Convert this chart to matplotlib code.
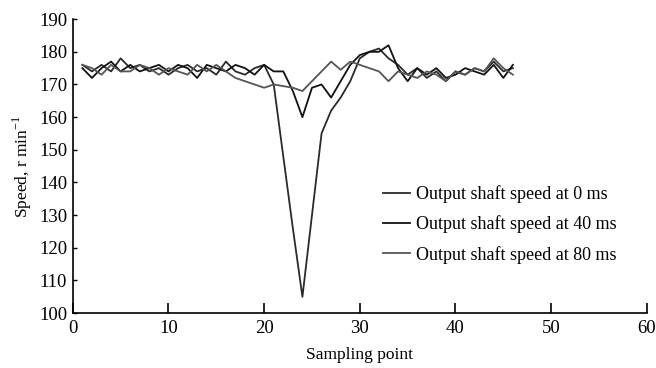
import numpy as np
import matplotlib
matplotlib.use('Agg')
import matplotlib.pyplot as plt

plt.rcParams['font.family'] = ['Liberation Serif', 'DejaVu Serif']
plt.rcParams['mathtext.fontset'] = 'custom'
plt.rcParams['mathtext.rm'] = 'Liberation Serif'

# sampling points
x = np.arange(1, 47)

# output shaft speed, r/min
speed_0ms = [176, 174, 176, 174, 178, 175, 176, 174, 175, 173,
             175, 176, 174, 175, 173, 177, 174, 173, 175, 176,
             170, 148, 126, 105, 130, 155, 162, 166, 171, 178,
             180, 181, 178, 176, 173, 175, 172, 174, 171, 174,
             173, 175, 174, 177, 174, 175]
speed_40ms = [175, 172, 175, 177, 174, 176, 174, 175, 176, 174,
              176, 175, 172, 176, 175, 174, 176, 175, 173, 176,
              174, 174, 168, 160, 169, 170, 166, 171, 176, 179,
              180, 180, 182, 175, 171, 175, 173, 175, 172, 173,
              175, 174, 173, 176, 172, 176]
speed_80ms = [176, 175, 173, 176, 174, 174, 176, 175, 173, 175,
              174, 173, 176, 174, 176, 174, 172, 171, 170, 169,
              170, 169.5, 169, 168, 171, 174, 177, 174.5, 177, 176,
              175, 174, 171, 174, 173, 172, 174, 173, 171, 174,
              173, 175, 174, 178, 175, 173]

labels = ['Output shaft speed at 0 ms',
          'Output shaft speed at 40 ms',
          'Output shaft speed at 80 ms']

fig = plt.figure(figsize=(6.56, 3.68), dpi=100)
ax = fig.add_axes([0.111, 0.149, 0.875, 0.799])

ax.plot(x, speed_0ms, color='#2a2a2a', lw=1.3, label=labels[0])
ax.plot(x, speed_40ms, color='#111111', lw=1.3, label=labels[1])
ax.plot(x, speed_80ms, color='#555555', lw=1.3, label=labels[2])

ax.set_xlim(0, 60)
ax.set_ylim(100, 190)
ax.set_xticks(np.arange(0, 61, 10))
ax.set_yticks(np.arange(100, 191, 10))

for s in ['top', 'right']:
    ax.spines[s].set_visible(False)
ax.spines['left'].set_linewidth(1.2)
ax.spines['bottom'].set_linewidth(1.2)
ax.tick_params(axis='x', direction='in', length=7, width=1.2, labelsize=13.5, pad=5)
ax.tick_params(axis='y', direction='in', length=3, width=1.0, labelsize=13.5, pad=4)

ax.set_xlabel('Sampling point', fontsize=12.5, labelpad=7)
ax.set_ylabel('Speed, r min$^{\\mathregular{-1}}$', fontsize=12.5, labelpad=4)

ax.legend(loc='upper left', bbox_to_anchor=(0.512, 0.49), frameon=False,
          fontsize=13, handlelength=1.5, handletextpad=0.35, labelspacing=0.68)

fig.savefig('out.png', dpi=100)
